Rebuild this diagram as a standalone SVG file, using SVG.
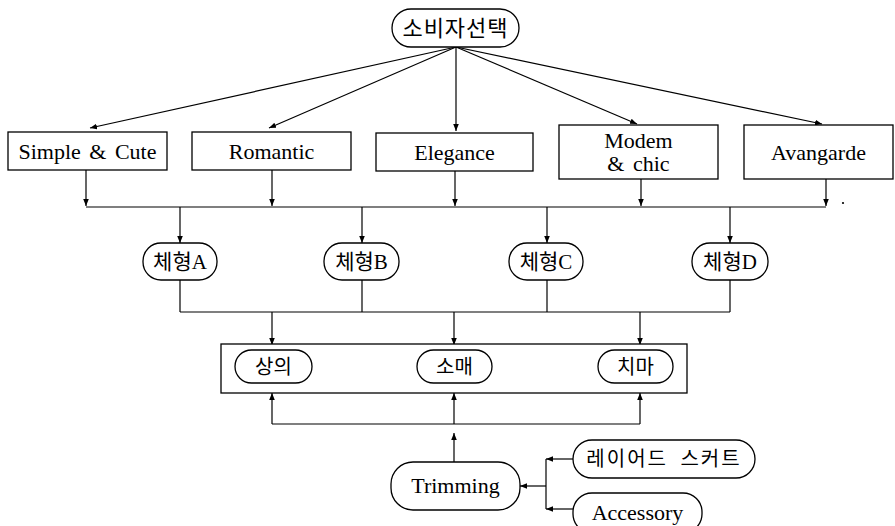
<svg xmlns="http://www.w3.org/2000/svg" width="895" height="526" viewBox="0 0 895 526">
<defs>
<marker id="ah" viewBox="0 0 10 10" refX="10" refY="5" markerWidth="7" markerHeight="7" markerUnits="userSpaceOnUse" orient="auto">
<path d="M0,1 L10,5 L0,9 Z" fill="#000"/>
</marker>
<style>
.box{fill:#fff;stroke:#000;stroke-width:1.3}
.en{font-family:"Liberation Serif","DejaVu Serif","Times New Roman",serif;font-size:22px;fill:#000;text-anchor:middle;word-spacing:3px}
.ko{font-family:"Noto Sans CJK KR","Noto Sans",sans-serif;font-size:20px;fill:#000;text-anchor:middle}
.mix{font-family:"Liberation Serif","Noto Sans CJK KR",serif;font-size:21px;fill:#000;text-anchor:middle}
.ln{fill:none;stroke:#000;stroke-width:1.2}
.ar{fill:none;stroke:#000;stroke-width:1.2;marker-end:url(#ah)}
</style>
</defs>
<rect width="895" height="526" fill="#fff"/>

<g id="connectors">
<line class="ar" x1="456" y1="47" x2="90" y2="128"/>
<line class="ar" x1="456" y1="47" x2="269" y2="128"/>
<line class="ar" x1="456" y1="47" x2="456" y2="131"/>
<line class="ar" x1="456" y1="47" x2="637" y2="124"/>
<line class="ar" x1="456" y1="47" x2="822" y2="124"/>
<line class="ar" x1="86" y1="170" x2="86" y2="206"/>
<line class="ar" x1="272" y1="170" x2="272" y2="206"/>
<line class="ar" x1="455" y1="171" x2="455" y2="206"/>
<line class="ar" x1="641" y1="179" x2="641" y2="206"/>
<line class="ar" x1="826" y1="179" x2="826" y2="206"/>
<line class="ln" x1="86" y1="207" x2="826" y2="207"/>
<line class="ar" x1="180" y1="207" x2="180" y2="243"/>
<line class="ar" x1="362" y1="207" x2="362" y2="243"/>
<line class="ar" x1="547" y1="207" x2="547" y2="243"/>
<line class="ar" x1="730" y1="207" x2="730" y2="243"/>
<line class="ln" x1="180" y1="280" x2="180" y2="312"/>
<line class="ln" x1="362" y1="280" x2="362" y2="312"/>
<line class="ln" x1="547" y1="280" x2="547" y2="312"/>
<line class="ln" x1="730" y1="280" x2="730" y2="312"/>
<line class="ln" x1="180" y1="312" x2="730" y2="312"/>
<line class="ar" x1="272" y1="312" x2="272" y2="345"/>
<line class="ar" x1="454" y1="312" x2="454" y2="345"/>
<line class="ar" x1="640" y1="312" x2="640" y2="345"/>
<line class="ln" x1="272" y1="424" x2="640" y2="424"/>
<line class="ar" x1="272" y1="424" x2="272" y2="393"/>
<line class="ar" x1="454" y1="424" x2="454" y2="393"/>
<line class="ar" x1="640" y1="424" x2="640" y2="393"/>
<line class="ar" x1="454" y1="462" x2="454" y2="433"/>
<line class="ln" x1="546" y1="459" x2="546" y2="509"/>
<line class="ar" x1="546" y1="486" x2="520" y2="486"/>
<line class="ar" x1="573" y1="459" x2="546" y2="459"/>
<line class="ar" x1="573" y1="509" x2="546" y2="509"/>
</g>

<circle cx="843" cy="203" r="1.1" fill="#000"/>

<g id="n-consumer">
<rect class="box" x="392" y="9" width="127" height="38" rx="19"/>
<text class="ko" x="455.5" y="36" style="font-size:22px;letter-spacing:1px">소비자선택</text>
</g>

<g id="n-simple">
<rect class="box" x="8" y="132" width="159" height="38"/>
<text class="en" x="87.5" y="159">Simple &amp; Cute</text>
</g>
<g id="n-romantic">
<rect class="box" x="192" y="132" width="159" height="38"/>
<text class="en" x="271.5" y="159">Romantic</text>
</g>
<g id="n-elegance">
<rect class="box" x="376" y="133" width="157" height="38"/>
<text class="en" x="454.5" y="160">Elegance</text>
</g>
<g id="n-modern">
<rect class="box" x="559" y="125" width="159" height="54"/>
<text class="en" x="638.5" y="148">Modem</text>
<text class="en" x="638.5" y="171">&amp; chic</text>
</g>
<g id="n-avangarde">
<rect class="box" x="744" y="125" width="149" height="54"/>
<text class="en" x="818.5" y="160">Avangarde</text>
</g>

<g id="n-typeA">
<rect class="box" x="143" y="243" width="74" height="37" rx="18"/>
<text class="mix" x="180" y="269">체형A</text>
</g>
<g id="n-typeB">
<rect class="box" x="324" y="243" width="75" height="37" rx="18"/>
<text class="mix" x="361.5" y="269">체형B</text>
</g>
<g id="n-typeC">
<rect class="box" x="509" y="243" width="74" height="37" rx="18"/>
<text class="mix" x="546" y="269">체형C</text>
</g>
<g id="n-typeD">
<rect class="box" x="692" y="243" width="76" height="37" rx="18"/>
<text class="mix" x="730" y="269">체형D</text>
</g>

<g id="n-garment">
<rect class="box" x="221" y="344" width="466" height="49"/>
</g>
<g id="n-top">
<rect class="box" x="235" y="350" width="77" height="33" rx="16.5"/>
<text class="ko" x="273.5" y="374">상의</text>
</g>
<g id="n-sleeve">
<rect class="box" x="417" y="350" width="75" height="33" rx="16.5"/>
<text class="ko" x="454.5" y="374">소매</text>
</g>
<g id="n-skirt">
<rect class="box" x="598" y="350" width="75" height="33" rx="16.5"/>
<text class="ko" x="635.5" y="374">치마</text>
</g>

<g id="n-trimming">
<rect class="box" x="391" y="462" width="129" height="48" rx="22"/>
<text class="en" x="455.5" y="493">Trimming</text>
</g>
<g id="n-layered">
<rect class="box" x="573" y="440" width="182" height="38" rx="19"/>
<text class="ko" x="664" y="466" style="letter-spacing:2px;word-spacing:6px">레이어드 스커트</text>
</g>
<g id="n-accessory">
<rect class="box" x="573" y="493" width="129" height="40" rx="19"/>
<text class="en" x="637.5" y="520">Accessory</text>
</g>
</svg>
